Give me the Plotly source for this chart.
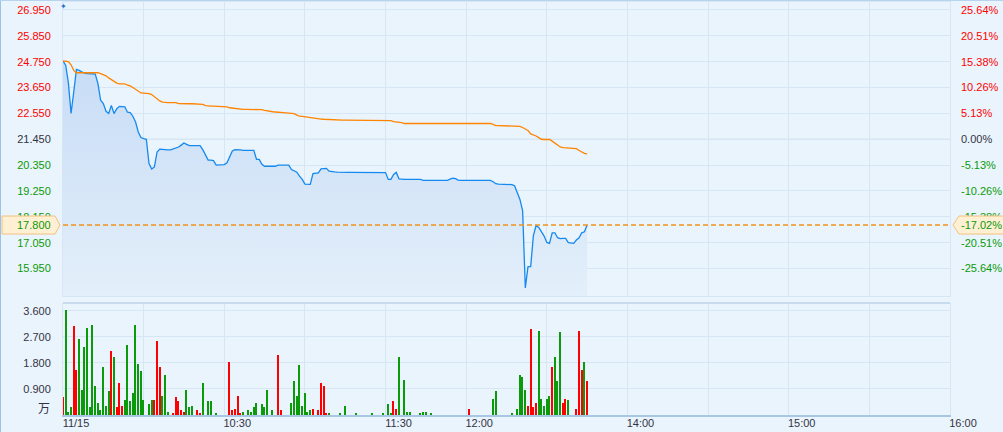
import plotly.graph_objects as go

# ---------------- data ----------------
prev_close = 21.45

price = [
    24.78, 24.60, 23.85, 22.55, 23.46, 24.42, 24.38, 24.31, 24.26, 24.24,
    24.24, 24.24, 24.22, 23.82, 23.11, 22.97, 22.64, 22.55, 22.89, 22.54,
    22.75, 22.85, 22.85, 22.83, 22.60, 22.58, 22.43, 22.18, 21.76, 21.52,
    21.48, 21.45, 20.42, 20.18, 20.27, 20.91, 21.03, 21.01, 21.00, 21.00,
    21.00, 21.03, 21.06, 21.12, 21.20, 21.29, 21.23, 21.18, 21.18, 21.18,
    21.18, 21.18, 21.01, 20.77, 20.56, 20.56, 20.54, 20.35, 20.35, 20.35,
    20.37, 20.45, 20.73, 20.95, 21.01, 21.02, 21.00, 20.98, 20.98, 20.98,
    20.98, 20.98, 20.59, 20.59, 20.38, 20.30, 20.30, 20.30, 20.30, 20.30,
    20.35, 20.35, 20.35, 20.35, 20.35, 20.16, 20.09, 20.05, 19.88, 19.74,
    19.54, 19.53, 19.53, 19.99, 20.02, 20.02, 20.19, 20.21, 20.21, 20.09,
    20.06, 20.06, 20.05, 20.04, 20.04, 20.04, 20.04, 20.04, 20.04, 20.04,
    20.04, 20.04, 20.04, 20.04, 20.04, 20.04, 20.04, 20.04, 20.04, 20.04,
    20.03, 19.74, 19.74, 19.95, 20.04, 19.76, 19.74, 19.74, 19.74, 19.74,
    19.74, 19.74, 19.74, 19.74, 19.70, 19.70, 19.70, 19.70, 19.70, 19.70,
    19.70, 19.70, 19.70, 19.70, 19.75, 19.79, 19.77, 19.71, 19.70, 19.70,
    19.70, 19.70, 19.70, 19.70, 19.70, 19.70, 19.70, 19.70, 19.70, 19.70,
    19.64, 19.56, 19.54, 19.54, 19.54, 19.54, 19.54, 19.52, 19.47, 19.21,
    18.89, 18.40, 15.12, 16.03, 16.03, 17.35, 17.78, 17.70, 17.51, 17.33,
    17.06, 17.02, 17.47, 17.47, 17.26, 17.22, 17.23, 17.23, 17.05, 17.02,
    17.02, 17.16, 17.26, 17.47, 17.51, 17.80,
]

avg_price = [
    24.78, 24.75, 24.75, 24.62, 24.38, 24.28, 24.28, 24.28, 24.28, 24.28,
    24.28, 24.28, 24.28, 24.28, 24.24, 24.20, 24.15, 24.06, 23.98, 23.91,
    23.84, 23.81, 23.81, 23.81, 23.75, 23.72, 23.65, 23.56, 23.48, 23.42,
    23.41, 23.41, 23.39, 23.35, 23.25, 23.15, 23.08, 23.03, 23.01, 23.01,
    23.01, 23.01, 23.01, 22.97, 22.96, 22.96, 22.96, 22.96, 22.96, 22.96,
    22.96, 22.95, 22.93, 22.88, 22.86, 22.86, 22.86, 22.86, 22.86, 22.86,
    22.86, 22.83, 22.79, 22.77, 22.75, 22.74, 22.74, 22.72, 22.72, 22.72,
    22.72, 22.72, 22.72, 22.72, 22.71, 22.68, 22.65, 22.63, 22.62, 22.61,
    22.61, 22.59, 22.58, 22.57, 22.57, 22.57, 22.54, 22.48, 22.43, 22.42,
    22.40, 22.38, 22.36, 22.34, 22.33, 22.32, 22.31, 22.30, 22.29, 22.28,
    22.27, 22.27, 22.26, 22.26, 22.26, 22.26, 22.26, 22.26, 22.26, 22.26,
    22.26, 22.26, 22.26, 22.26, 22.26, 22.26, 22.26, 22.26, 22.26, 22.26,
    22.25, 22.25, 22.24, 22.20, 22.19, 22.18, 22.16, 22.12, 22.12, 22.12,
    22.12, 22.12, 22.12, 22.12, 22.12, 22.12, 22.12, 22.12, 22.12, 22.12,
    22.12, 22.12, 22.12, 22.12, 22.12, 22.12, 22.12, 22.12, 22.12, 22.12,
    22.12, 22.12, 22.12, 22.12, 22.12, 22.12, 22.12, 22.12, 22.12, 22.12,
    22.08, 22.03, 22.03, 22.03, 22.03, 22.03, 22.03, 22.03, 22.03, 22.03,
    22.00, 21.95, 21.87, 21.82, 21.68, 21.64, 21.59, 21.52, 21.45, 21.44,
    21.44, 21.44, 21.37, 21.28, 21.19, 21.12, 21.09, 21.08, 21.08, 21.08,
    21.08, 21.05, 20.97, 20.91, 20.85, 20.83,
]

vol_minutes = [
    0, 1, 2, 3, 4, 5, 6, 7, 8, 9, 10, 11, 12, 13, 14, 15, 16, 17, 18, 19,
    20, 21, 22, 23, 24, 25, 26, 27, 28, 29, 30, 32, 33, 34, 35, 36, 37, 38, 39, 41,
    42, 43, 44, 45, 46, 47, 48, 50, 51, 52, 54, 55, 57, 62, 63, 64, 65, 66, 67, 69,
    70, 71, 72, 74, 75, 76, 78, 80, 81, 85, 86, 87, 88, 89, 90, 91, 92, 93, 95, 96,
    97, 98, 99, 103, 105, 109, 115, 119, 121, 122, 123, 124, 125, 127, 128, 129, 133, 134, 135, 137,
    151, 160, 161, 167, 169, 170, 171, 172, 173, 174, 175, 176, 177, 178, 179, 180, 181, 182, 183, 184,
    185, 186, 187, 188, 191, 192, 193, 194, 195,
]
vol_values = [
    0.62, 3.62, 0.10, 0.28, 3.08, 1.55, 2.62, 0.85, 2.35, 3.01, 0.28, 3.11, 0.99, 0.42, 0.16, 1.66, 0.31, 0.83, 2.20, 2.01,
    0.28, 1.11, 0.31, 0.52, 2.42, 0.48, 0.76, 3.11, 1.76, 1.52, 0.52, 0.38, 0.52, 0.52, 2.56, 1.66, 0.66, 1.38, 0.10, 0.07,
    0.62, 0.48, 0.17, 0.10, 0.87, 0.28, 0.31, 0.17, 0.07, 1.11, 0.48, 0.48, 0.07, 1.83, 0.17, 0.21, 0.66, 0.07, 0.10, 0.17,
    0.09, 0.27, 0.40, 0.37, 0.27, 0.85, 0.16, 2.06, 0.16, 0.40, 1.16, 0.65, 1.72, 0.30, 0.75, 0.09, 0.16, 0.20, 0.16, 1.10,
    0.99, 0.06, 0.06, 0.06, 0.30, 0.06, 0.06, 0.06, 0.37, 0.06, 0.47, 0.21, 2.00, 1.21, 0.09, 0.09, 0.06, 0.09, 0.09, 0.06,
    0.20, 0.54, 0.82, 0.06, 0.20, 1.37, 1.30, 0.87, 0.30, 2.96, 0.27, 0.40, 2.90, 0.54, 0.30, 0.54, 0.65, 1.65, 2.00, 1.16,
    2.86, 0.40, 0.54, 0.51, 0.20, 2.90, 1.55, 1.82, 1.16,
]
# 1 = up tick (red), 0 = down tick (green)
vol_up = [
    1, 0, 0, 0, 1, 1, 0, 0, 0, 0, 0, 0, 0, 0, 0, 0, 0, 0, 1, 0,
    1, 1, 1, 0, 0, 0, 0, 0, 0, 0, 0, 0, 0, 1, 1, 1, 0, 0, 0, 1,
    1, 1, 1, 1, 0, 0, 0, 1, 1, 0, 0, 0, 0, 1, 1, 1, 1, 1, 0, 0,
    0, 0, 0, 0, 0, 0, 0, 1, 1, 0, 0, 0, 0, 0, 0, 0, 0, 1, 1, 1,
    1, 1, 0, 0, 0, 0, 0, 0, 0, 0, 1, 1, 0, 0, 0, 0, 0, 0, 0, 0,
    1, 0, 0, 0, 0, 0, 0, 0, 1, 1, 1, 1, 0, 0, 0, 0, 0, 1, 0, 0,
    0, 1, 1, 0, 1, 1, 1, 0, 1,
]

price_ticks = [15.95, 17.05, 18.15, 19.25, 20.35, 21.45, 22.55, 23.65, 24.75, 25.85, 26.95]
vol_ticks = [0.9, 1.8, 2.7, 3.6]
time_tickvals = [0, 30, 60, 90, 120, 150, 180, 210, 240, 270, 300, 330]
time_ticktext = ["11/15", "", "10:30", "", "11:30", "12:00", "", "14:00", "", "15:00", "", "16:00"]
price_range = [14.78, 27.29]
vol_range = [0, 3.875]
session_minutes = 330

# ---------------- styling ----------------
W, H = 1003, 432
ML, MR, MT, MB = 63, 53, 2, 17
plot_h = H - MT - MB
price_dom = [(415 - 296) / plot_h, 1]
vol_dom = [0, (415 - 303) / plot_h]

BG = "#EAF4FC"
GRID = "#D6E6F5"
RED = "#FF0000"
GREEN = "#0A9A0A"
DARK = "#333344"
FONT = "Liberation Sans, Arial, sans-serif"


def tone(p):
    if p > prev_close + 1e-9:
        return RED
    if p < prev_close - 1e-9:
        return GREEN
    return DARK


left_text = [f'<span style="color:{tone(p)}">{p:.3f}</span>' for p in price_ticks]
right_text = [f'<span style="color:{tone(p)}">{(p / prev_close - 1) * 100:.2f}%</span>' for p in price_ticks]

minutes = list(range(len(price)))
last = price[-1]

fig = go.Figure()
fig.add_trace(go.Scatter(
    x=minutes, y=price, mode="lines",
    line=dict(color="#1589F0", width=1.3),
    fill="tozeroy",
    fillgradient=dict(type="vertical", start=price_range[0], stop=max(price),
                      colorscale=[[0, "#E3EFFA"], [1, "#C7DCF6"]]),
    xaxis="x", yaxis="y", hoverinfo="skip", showlegend=False,
))
fig.add_trace(go.Scatter(
    x=minutes, y=avg_price, mode="lines",
    line=dict(color="#FF8400", width=1.3),
    xaxis="x", yaxis="y", hoverinfo="skip", showlegend=False,
))
fig.add_trace(go.Scatter(
    x=minutes, y=price, mode="lines", line=dict(width=0), opacity=0,
    xaxis="x", yaxis="y3", hoverinfo="skip", showlegend=False,
))
fig.add_trace(go.Bar(
    x=vol_minutes, y=vol_values, width=0.5,
    marker=dict(color=[RED if u else GREEN for u in vol_up], line=dict(width=0)),
    xaxis="x2", yaxis="y2", hoverinfo="skip", showlegend=False,
))

tickfont = dict(family=FONT, size=11, color=DARK)

fig.update_layout(
    width=W, height=H,
    margin=dict(l=ML, r=MR, t=MT, b=MB, pad=0),
    paper_bgcolor=BG, plot_bgcolor=BG,
    template="none",
    showlegend=False,
    bargap=0,
    xaxis=dict(domain=[0, 1], anchor="y", range=[0, session_minutes],
               tickvals=time_tickvals, showticklabels=False,
               showgrid=True, gridcolor=GRID, gridwidth=1, zeroline=False,
               showline=True, linecolor=GRID, linewidth=1, mirror=True, ticks=""),
    yaxis=dict(domain=price_dom, anchor="x", range=price_range,
               tickvals=price_ticks, ticktext=left_text, tickfont=tickfont,
               showgrid=True, gridcolor=GRID, gridwidth=1, zeroline=False,
               showline=True, linecolor=GRID, linewidth=1, mirror=True,
               ticks="", ticklabelstandoff=9),
    yaxis3=dict(overlaying="y", anchor="x", side="right", range=price_range,
                tickvals=price_ticks, ticktext=right_text, tickfont=tickfont,
                showgrid=False, zeroline=False, showline=False,
                ticks="", ticklabelstandoff=10),
    xaxis2=dict(domain=[0, 1], anchor="y2", matches="x", range=[0, session_minutes],
                tickvals=time_tickvals, ticktext=time_ticktext, tickfont=tickfont,
                showgrid=True, gridcolor=GRID, gridwidth=1, zeroline=False,
                showline=True, linecolor="#A8C7E6", linewidth=2,
                ticks="", ticklabelshift=13, ticklabelstandoff=-3),
    yaxis2=dict(domain=vol_dom, anchor="x2", range=vol_range,
                tickvals=vol_ticks, ticktext=[f"{v:.3f}" for v in vol_ticks],
                tickfont=tickfont,
                showgrid=True, gridcolor=GRID, gridwidth=1, zeroline=False,
                showline=True, linecolor=GRID, linewidth=1, mirror=True,
                ticks="", ticklabelstandoff=9),
)

shapes = []
# previous close reference line
shapes.append(dict(type="line", xref="paper", x0=0, x1=1, yref="y", y0=prev_close, y1=prev_close,
                   line=dict(color="#C4D4E4", width=1), layer="below"))
# volume panel top separator
shapes.append(dict(type="line", xref="paper", x0=0, x1=1, yref="y2 domain", y0=1, y1=1,
                   line=dict(color="#C8DBEE", width=2), layer="above"))
# current price dashed line
shapes.append(dict(type="line", xref="paper", x0=0, x1=1, yref="y", y0=last, y1=last,
                   line=dict(color="#F0921E", width=1.5, dash="5px,3px"), layer="above"))
# current price label boxes
shapes.append(dict(type="path", xref="paper", xsizemode="pixel", xanchor=0,
                   yref="y", ysizemode="pixel", yanchor=last,
                   path="M -61,-9 L -8,-9 L -3,0 L -8,9 L -61,9 Z",
                   fillcolor="#FFEFD3", line=dict(color="#F2C27C", width=1), layer="above"))
shapes.append(dict(type="path", xref="paper", xsizemode="pixel", xanchor=1,
                   yref="y", ysizemode="pixel", yanchor=last,
                   path="M 3,0 L 9,-9 L 56,-9 L 56,9 L 9,9 Z",
                   fillcolor="#FFEFD3", line=dict(color="#F2C27C", width=1), layer="above"))
# outer frame (left and top)
fx0 = -ML / (W - ML - MR)
fy1 = 1 + MT / plot_h
shapes.append(dict(type="line", xref="paper", yref="paper", x0=fx0, x1=fx0, y0=-MB / plot_h, y1=fy1,
                   line=dict(color="#9CC2E6", width=2), layer="above"))
shapes.append(dict(type="line", xref="paper", yref="paper", x0=fx0, x1=1 + MR / (W - ML - MR), y0=fy1, y1=fy1,
                   line=dict(color="#B7D3EE", width=2), layer="above"))
fig.update_layout(shapes=shapes)

fig.update_layout(annotations=[
    dict(xref="paper", x=0, xanchor="right", xshift=-10, yref="y", y=last, yanchor="middle",
         text=f"{last:.3f}", showarrow=False, font=dict(family=FONT, size=11, color=tone(last))),
    dict(xref="paper", x=1, xanchor="left", xshift=9, yref="y", y=last, yanchor="middle",
         text=f"{(last / prev_close - 1) * 100:.2f}%", showarrow=False,
         font=dict(family=FONT, size=11, color=tone(last))),
    dict(xref="paper", x=0, xanchor="right", xshift=-11, yref="y2", y=0, yanchor="middle", yshift=8,
         text="万", showarrow=False, font=dict(family="Noto Sans CJK SC", size=12, color=DARK)),
    dict(xref="paper", x=0, xanchor="center", yref="paper", y=1, yanchor="middle", yshift=-4,
         text="✦", showarrow=False, font=dict(family="DejaVu Sans", size=8, color="#2F6FD0")),
])

fig.write_html("out.html", config={"displayModeBar": False},
               post_script="document.body.style.margin='0';document.body.style.overflow='hidden';")
